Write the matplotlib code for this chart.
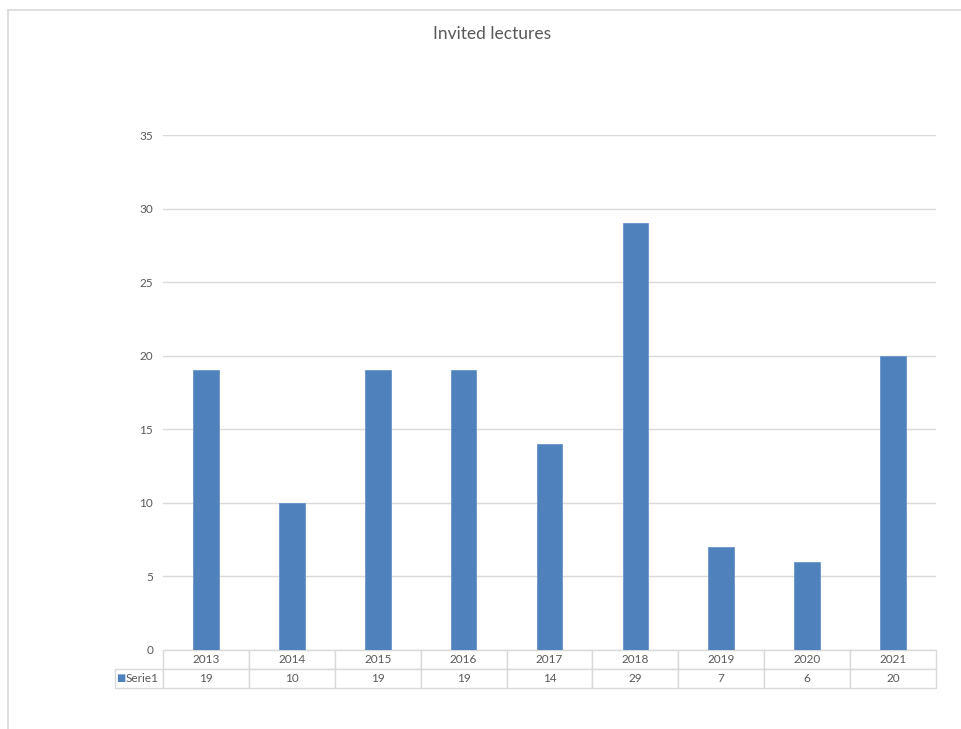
import matplotlib.pyplot as plt
from matplotlib.lines import Line2D

years = ['2013', '2014', '2015', '2016', '2017', '2018', '2019', '2020', '2021']
lectures = [19, 10, 19, 19, 14, 29, 7, 6, 20]
series_name = 'Serie1'
yticks = [0, 5, 10, 15, 20, 25, 30, 35]

bar_color = '#4f81bd'
grid_color = '#d9d9d9'
text_color = '#595959'

plt.rcParams['font.family'] = ['Lato', 'DejaVu Sans']

fig = plt.figure(figsize=(9.61, 7.29), dpi=100)
ax = fig.add_axes([163 / 961, 79 / 729, 773 / 961, 515 / 729])

x = range(len(years))
ax.bar(x, lectures, width=0.30, color=bar_color, edgecolor='#6a94c8', linewidth=0.6, zorder=3)
ax.set_xlim(-0.5, len(years) - 0.5)
ax.set_ylim(0, 35)
ax.set_yticks(yticks)
ax.set_xticks([])
ax.tick_params(axis='y', length=0, pad=7, labelsize=8.5, labelcolor=text_color)
ax.grid(axis='y', color=grid_color, linewidth=1.0, zorder=0)
for s in ax.spines.values():
    s.set_visible(False)

# data table under the plot: header row of years, then the series row
# (bbox covers only the value grid; the row label hangs off to the left)
row_w = 48 / 773
h = 38 / 515
tbl = ax.table(cellText=[[str(v) for v in lectures]], colLabels=years,
               cellLoc='center', colWidths=[1 / len(years)] * len(years),
               bbox=[0, -h, 1, h])
tbl.add_cell(1, -1, width=row_w, height=tbl[1, 0].get_height(),
             text=series_name, loc='right')
tbl.auto_set_font_size(False)
tbl.set_fontsize(8.5)
for (r, c), cell in tbl.get_celld().items():
    cell.set_edgecolor(grid_color)
    cell.set_linewidth(1.0)
    cell.get_text().set_color(text_color)

ax.text(-0.0543, -0.0553, '■', transform=ax.transAxes, fontsize=7,
        color=bar_color, ha='center', va='center', family='DejaVu Sans')

fig.text(492 / 961, 1 - 34 / 729, 'Invited lectures', ha='center', va='center',
         fontsize=12.5, color=text_color)

# chart frame (top and left edges visible in the screenshot)
fig.add_artist(Line2D([8 / 961, 1], [1 - 10 / 729, 1 - 10 / 729], transform=fig.transFigure,
                      color=grid_color, linewidth=1.2))
fig.add_artist(Line2D([8 / 961, 8 / 961], [0, 1 - 10 / 729], transform=fig.transFigure,
                      color=grid_color, linewidth=1.2))

fig.savefig('out.png', dpi=100)
